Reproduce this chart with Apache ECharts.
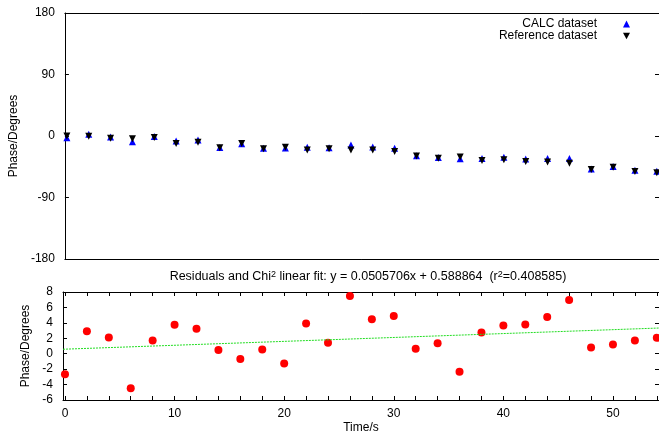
<!DOCTYPE html>
<html><head><meta charset="utf-8">
<script src="https://cdn.jsdelivr.net/npm/echarts@6/dist/echarts.min.js"></script>
<style>html,body{margin:0;padding:0;background:#fff}#c{width:659px;height:436px}</style>
</head><body><div id="c"></div>
<script>
var times = [0,2,4,6,8,10,12,14,16,18,20,22,24,26,28,30,32,34,36,38,40,42,44,46,48,50,52,54];
var calcPhase = [-2.7, 2.4, -1.3, -8.5, -0.6, -7.3, -5.8, -16.7, -11.5, -18.1, -17.7, -16.5, -17.3, -13.0, -16.1, -17.9, -28.8, -31.3, -33.2, -33.0, -31.1, -33.6, -33.1, -33.0, -48.2, -44.7, -50.2, -51.5];
var refPhase = [0.0, -0.5, -3.4, -4.0, -2.3, -11.0, -9.0, -17.2, -10.8, -18.7, -16.4, -20.4, -18.7, -20.5, -20.6, -22.8, -29.4, -32.7, -30.9, -35.8, -34.8, -37.4, -37.9, -40.0, -49.0, -45.9, -51.9, -53.6];
var residuals = [-2.65, 2.92, 2.1, -4.48, 1.72, 3.74, 3.22, 0.47, -0.7, 0.55, -1.26, 3.91, 1.41, 7.48, 4.47, 4.9, 0.64, 1.37, -2.33, 2.75, 3.66, 3.78, 4.77, 6.97, 0.81, 1.2, 1.72, 2.06];
var fitX = [-0.18, 54.2];
var fitY = [0.58, 3.33];
var xTickValues = [0,2,4,6,8,10,12,14,16,18,20,22,24,26,28,30,32,34,36,38,40,42,44,46,48,50,52,54];
var xLabelValues = [0,10,20,30,40,50];
var topYTicks = [-180,-90,0,90,180];
var botYTicks = [-6,-4,-2,0,2,4,6,8];

function pairs(xs, ys){ return xs.map(function(x,i){return [x, ys[i]];}); }

var FONT = 'Liberation Sans, Arial, Helvetica, sans-serif';
var XMIN = -0.18, XMAX = 54.2;
var chart = echarts.init(document.getElementById('c'), null, {renderer:'canvas'});
var axLine = {show:true, onZero:false, lineStyle:{color:'#000', width:1}};
var labelStyle = {color:'#000', fontSize:12, fontFamily:FONT};
var tickStyle = {show:true, inside:true, length:4, lineStyle:{color:'#000'}};

chart.setOption({
  animation:false,
  backgroundColor:'#fff',
  textStyle:{fontFamily:FONT},
  title:{
    text:'Residuals and Chi{sup|2} linear fit: y = 0.0505706x + 0.588864  (r{sup|2}=0.408585)',
    left:363, top:265, textAlign:'center',
    textStyle:{fontSize:12.5, fontWeight:'normal', color:'#000', fontFamily:FONT,
      rich:{sup:{fontSize:9, verticalAlign:'top', lineHeight:9, padding:[0,0,5,0], color:'#000', fontFamily:FONT}}}
  },
  legend:{
    orient:'vertical', right:24, top:13, align:'right', itemGap:0,
    itemWidth:7, itemHeight:7,
    textStyle:{fontSize:12, lineHeight:12, color:'#000', fontFamily:FONT, padding:[0,21,0,0]},
    data:['CALC dataset','Reference dataset']
  },
  grid:[
    {left:63, right:0, top:13, height:246},
    {left:63, right:0, top:292, height:108}
  ],
  xAxis:[
    {type:'value', gridIndex:0, position:'bottom', min:XMIN, max:XMAX, axisLine:axLine, axisTick:{show:false}, axisLabel:{show:false}, splitLine:{show:false}},
    {type:'value', gridIndex:0, position:'top', min:XMIN, max:XMAX, axisLine:axLine, axisTick:{show:false}, axisLabel:{show:false}, splitLine:{show:false}},
    {type:'value', gridIndex:1, position:'bottom', min:XMIN, max:XMAX, axisLine:axLine,
      axisTick:Object.assign({customValues:xTickValues}, tickStyle),
      axisLabel:Object.assign({customValues:xLabelValues, margin:8}, labelStyle),
      splitLine:{show:false},
      name:'Time/s', nameLocation:'middle', nameGap:22, nameTextStyle:labelStyle},
    {type:'value', gridIndex:1, position:'top', min:XMIN, max:XMAX, axisLine:axLine,
      axisTick:Object.assign({customValues:xTickValues}, tickStyle),
      axisLabel:{show:false}, splitLine:{show:false}}
  ],
  yAxis:[
    {type:'value', gridIndex:0, position:'left', min:-180, max:180, interval:90, axisLine:axLine,
      axisTick:tickStyle,
      axisLabel:Object.assign({margin:10}, labelStyle), splitLine:{show:false},
      name:'Phase/Degrees', nameLocation:'middle', nameGap:43, nameTextStyle:labelStyle},
    {type:'value', gridIndex:0, position:'right', min:-180, max:180, interval:90, axisLine:axLine,
      axisTick:tickStyle, axisLabel:{show:false}, splitLine:{show:false}},
    {type:'value', gridIndex:1, position:'left', min:-6, max:8, interval:2, axisLine:axLine,
      axisTick:tickStyle,
      axisLabel:Object.assign({margin:10}, labelStyle), splitLine:{show:false},
      name:'Phase/Degrees', nameLocation:'middle', nameGap:29, nameTextStyle:labelStyle},
    {type:'value', gridIndex:1, position:'right', min:-6, max:8, interval:2, axisLine:axLine,
      axisTick:tickStyle, axisLabel:{show:false}, splitLine:{show:false}}
  ],
  series:[
    {name:'CALC dataset', type:'scatter', xAxisIndex:0, yAxisIndex:0, symbol:'triangle', symbolSize:7,
      itemStyle:{color:'#0000ff', opacity:1}, data:pairs(times, calcPhase), clip:false},
    {name:'Reference dataset', type:'scatter', xAxisIndex:0, yAxisIndex:0, symbol:'path://M0,0L10,0L5,9Z', symbolSize:7,
      itemStyle:{color:'#000000', opacity:1}, data:pairs(times, refPhase), clip:false},
    {name:'fit', type:'line', xAxisIndex:2, yAxisIndex:2, symbol:'none',
      lineStyle:{color:'#22dd22', width:1, type:[2,1]}, data:pairs(fitX, fitY)},
    {name:'Residuals', type:'scatter', xAxisIndex:2, yAxisIndex:2, symbol:'circle', symbolSize:8,
      itemStyle:{color:'#ff0000', opacity:1}, data:pairs(times, residuals), clip:false}
  ]
});
</script></body></html>
